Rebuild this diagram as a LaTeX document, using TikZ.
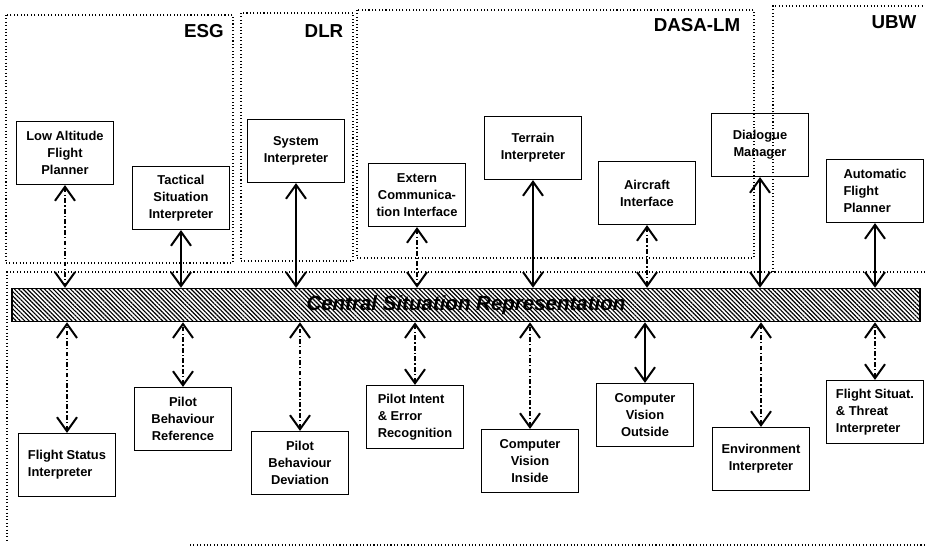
\documentclass[tikz,border=0pt]{standalone}
\usepackage{fontspec}
\setmainfont{Liberation Sans}
\usepackage{tikz}
\usetikzlibrary{arrows.meta}
\usetikzlibrary{patterns.meta}

\begin{document}
\begin{tikzpicture}[x=0.03cm,y=-0.03cm,
	>={Straight Barb[length=0.42cm,width=0.6cm,line width=1.7pt]},
	module/.style={draw,line width=1pt,minimum width=2.91cm,minimum height=1.89cm,align=center,inner sep=2pt,
		font=\bfseries\fontsize{11}{14.5}\selectfont},
	group/.style={dotted,line width=0.9pt},
	grplabel/.style={font=\bfseries\fontsize{16}{18}\selectfont},
	link/.style={<->,line width=0.9pt},
	linkd/.style={link,dash pattern=on 4pt off 2pt on 1pt off 2pt}]
			\useasboundingbox (0,0) rectangle (925,546);
			
			% Draw the partner groups
			\draw[group] (6,15) rectangle (233,263);
			\draw[group] (241,13) rectangle (353,261);
			\draw[group] (357,10) rectangle (754,258);
			\draw[group] (773,272) -- (773,6) -- (925,6);
			\draw[group] (925,272) -- (7,272) -- (7,543);
			\draw[group] (190,545) -- (925,545);
			\node[grplabel] (esg) at (204,31) {ESG};
			\node[grplabel] (dlr) at (324,31) {DLR};
			\node[grplabel] (dasa) at (697,25) {DASA-LM};
			\node[grplabel] (ubw) at (894,22) {UBW};
			
			% Draw the central representation
			\node[draw,line width=1pt,minimum width=27.24cm,minimum height=1.0cm,
				pattern={Lines[angle=-45,distance=2.6pt,line width=1pt]},
				font=\bfseries\itshape\fontsize{17.5}{20}\selectfont] (csr) at (466,305) {Central Situation Representation};
			
			% Draw the upper modules
			\node[module] (lafp) at (65,153) {Low Altitude\\Flight\\Planner};
			\node[module] (tsi) at (181,198) {Tactical\\Situation\\Interpreter};
			\node[module] (sysi) at (296,151) {System\\Interpreter};
			\node[module] (eci) at (417,195) {Extern\\Communica-\\tion Interface};
			\node[module] (ti) at (533,148) {Terrain\\Interpreter};
			\node[module] (aci) at (647,193) {Aircraft\\Interface};
			\node[module] (dm) at (760,145) {Dialogue\\Manager};
			\node[module,align=left] (afp) at (875,191) {Automatic\\Flight\\Planner};
			
			% Draw the lower modules
			\node[module,align=left] (fsi) at (67,465) {Flight Status\\Interpreter};
			\node[module] (pbr) at (183,419) {Pilot\\Behaviour\\Reference};
			\node[module] (pbd) at (300,463) {Pilot\\Behaviour\\Deviation};
			\node[module,align=left] (pie) at (415,417) {Pilot Intent\\\& Error\\Recognition};
			\node[module] (cvi) at (530,461) {Computer\\Vision\\Inside};
			\node[module] (cvo) at (645,415) {Computer\\Vision\\Outside};
			\node[module] (ei) at (761,459) {Environment\\Interpreter};
			\node[module,align=left] (fst) at (875,412) {Flight Situat.\\\& Threat\\Interpreter};
			
			% Draw the links to the representation
			\draw[linkd] (lafp.south) -- (lafp.south |- csr.north);
			\draw[link] (tsi.south) -- (tsi.south |- csr.north);
			\draw[link] (sysi.south) -- (sysi.south |- csr.north);
			\draw[linkd] (eci.south) -- (eci.south |- csr.north);
			\draw[link] (ti.south) -- (ti.south |- csr.north);
			\draw[linkd] (aci.south) -- (aci.south |- csr.north);
			\draw[link] (dm.south) -- (dm.south |- csr.north);
			\draw[link] (afp.south) -- (afp.south |- csr.north);
			\draw[linkd] (fsi.north) -- (fsi.north |- csr.south);
			\draw[linkd] (pbr.north) -- (pbr.north |- csr.south);
			\draw[linkd] (pbd.north) -- (pbd.north |- csr.south);
			\draw[linkd] (pie.north) -- (pie.north |- csr.south);
			\draw[linkd] (cvi.north) -- (cvi.north |- csr.south);
			\draw[link] (cvo.north) -- (cvo.north |- csr.south);
			\draw[linkd] (ei.north) -- (ei.north |- csr.south);
			\draw[linkd] (fst.north) -- (fst.north |- csr.south);
		\end{tikzpicture}
\end{document}
